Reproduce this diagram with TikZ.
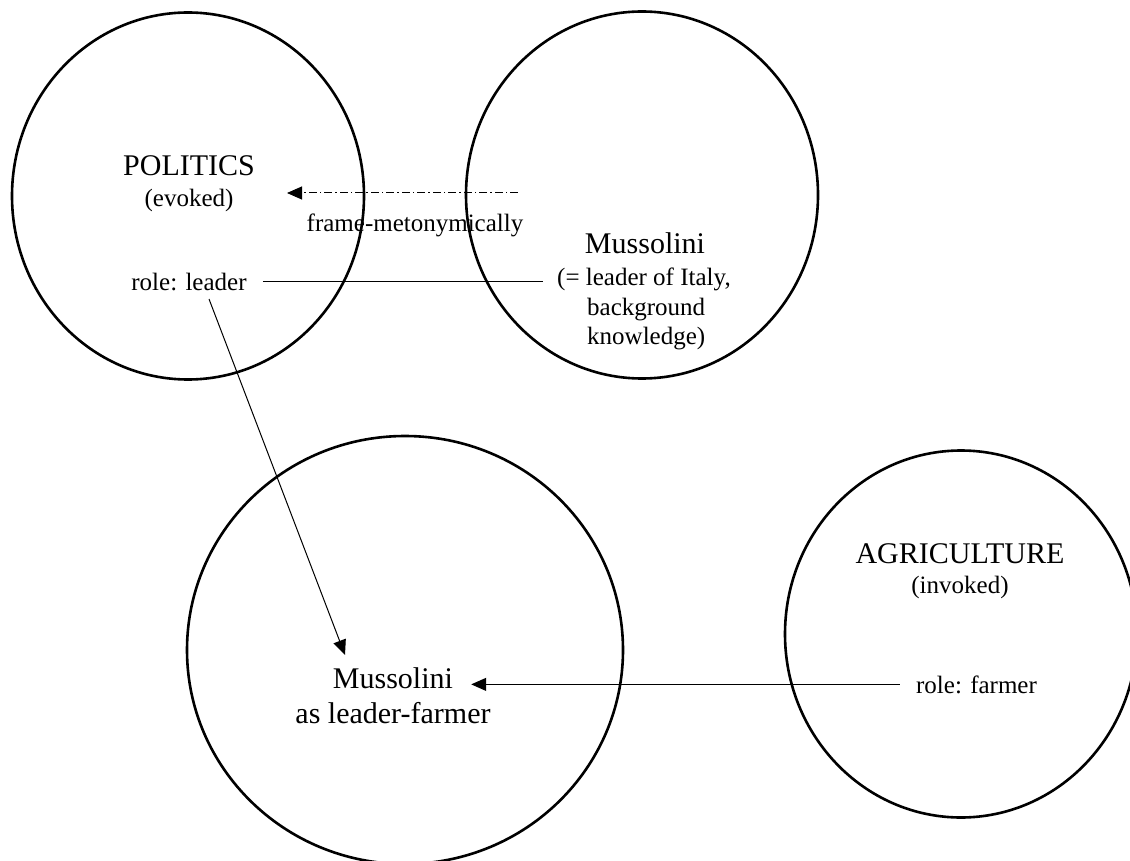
\documentclass[tikz,border=0pt]{standalone}
\usepackage{fontspec}
\setmainfont{Liberation Serif}
\usetikzlibrary{shapes.geometric,arrows.meta}

\tikzset{
  frame/.style={draw, ellipse, line width=2.6pt, inner sep=0pt, outer sep=0pt},
  bigtext/.style={font=\fontsize{30}{36}\selectfont, inner sep=0pt, anchor=base},
  smalltext/.style={font=\fontsize{25}{30}\selectfont, inner sep=0pt, anchor=base},
  link/.style={line width=1pt},
  arrowlink/.style={line width=1pt, -{Triangle[length=15pt,width=13pt]}},
  dashdotlink/.style={line width=1pt, dash pattern=on 8pt off 3pt on 1.5pt off 3pt,
                      -{Triangle[length=15pt,width=13pt]}}
}

\begin{document}
\begin{tikzpicture}[x=1pt,y=-1pt]
  \useasboundingbox (0,0) rectangle (1130,861);

  % the four mental spaces
  \node[frame, minimum width=352pt, minimum height=367pt] (politics) at (188,196) {};
  \node[frame, minimum width=352pt, minimum height=367pt] (mussolini) at (642,195) {};
  \node[frame, minimum width=436pt, minimum height=428pt] (blend) at (405,650) {};
  \node[frame, minimum width=352pt, minimum height=367pt] (agriculture) at (961,634) {};

  % POLITICS space
  \node[bigtext] (polT) at (189,176) {POLITICS};
  \node[smalltext] (polS) at (189,207) {(evoked)};
  \node[smalltext] (leader) at (189,290) {role: leader};

  % Mussolini space
  \node[bigtext] (mussT) at (645,254) {Mussolini};
  \node[smalltext, anchor=base west] (mussA) at (557,285) {(= leader of Italy,};
  \node[smalltext, anchor=base west] (mussB) at (587,315) {background};
  \node[smalltext, anchor=base west] (mussC) at (587,344) {knowledge)};

  % AGRICULTURE space
  \node[bigtext] (agrT) at (960,563) {AGRICULTURE};
  \node[smalltext] (agrS) at (960,593) {(invoked)};
  \node[smalltext] (farmer) at (976.5,693) {role: farmer};

  % blended space
  \node[bigtext] (blendA) at (393,688) {Mussolini};
  \node[bigtext] (blendB) at (393,723) {as leader-farmer};

  % frame-metonymic evocation
  \coordinate (metoStart) at (518,193);
  \coordinate (metoEnd) at (287,193);
  \draw[dashdotlink] (metoStart) -- (metoEnd);
  \node[smalltext] (meto) at (415,232) {frame-metonymically};

  % role connections
  \draw[link, shorten <=16pt, shorten >=14pt] (leader.east) -- (leader.east -| mussA.west);

  \coordinate (leadStart) at (209,299);
  \coordinate (leadEnd) at (345,655);
  \draw[arrowlink] (leadStart) -- (leadEnd);

  \draw[arrowlink, shorten <=16pt, shorten >=18pt] (farmer.west) -- (farmer.west -| blendA.east);
\end{tikzpicture}
\end{document}
